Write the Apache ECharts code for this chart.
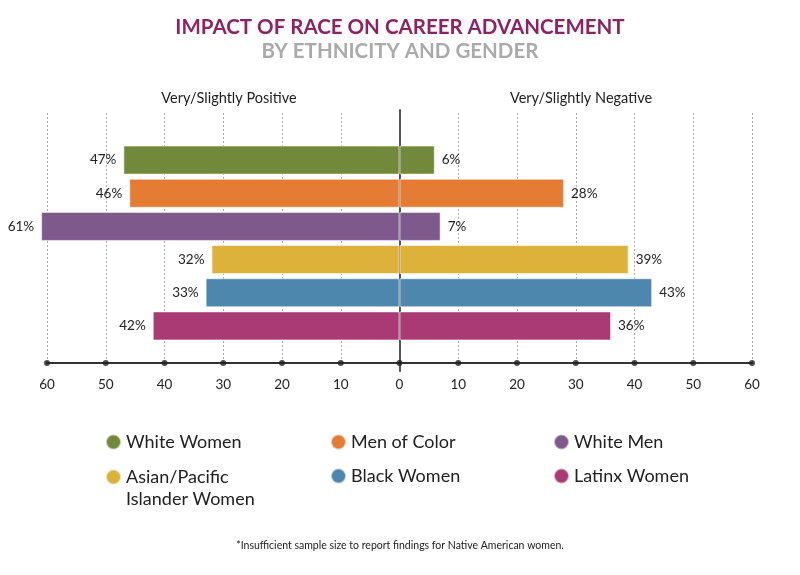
<!DOCTYPE html>
<html><head><meta charset="utf-8">
<script src="https://cdn.jsdelivr.net/npm/echarts@6/dist/echarts.min.js"></script>
<style>html,body{margin:0;padding:0;background:#fff}#c{width:800px;height:575px}</style>
</head><body><div id="c"></div>
<script>
const groups = ['White Women', 'Men of Color', 'White Men', 'Asian/Pacific\nIslander Women', 'Black Women', 'Latinx Women'];
const positiveVals = [47, 46, 61, 32, 33, 42];
const negativeVals = [6, 28, 7, 39, 43, 36];
const colors = ['#72883A', '#E57C33', '#7E5A8C', '#DDB23A', '#4D87AE', '#AA3A74'];
const ticks = [-60, -50, -40, -30, -20, -10, 0, 10, 20, 30, 40, 50, 60];

const FONT = 'Lato';
const chart = echarts.init(document.getElementById('c'));

const series = [];
groups.forEach((g, i) => {
  const common = {
    name: g, type: 'bar', xAxisIndex: 0, yAxisIndex: 0, clip: false,
    barWidth: 29, barGap: '-100%',
    itemStyle: { color: colors[i], borderColor: 'rgba(255,255,255,0.55)', borderWidth: 1 },
    label: { show: true, formatter: p => Math.abs(p.value) + '%', fontFamily: FONT, fontSize: 13.5, color: '#222', distance: 7 },
    emphasis: { disabled: true }
  };
  series.push(Object.assign({}, common, {
    data: groups.map((_, j) => j === i ? -positiveVals[i] : null),
    label: Object.assign({}, common.label, { position: 'left' })
  }));
  series.push(Object.assign({}, common, {
    data: groups.map((_, j) => j === i ? negativeVals[i] : null),
    label: Object.assign({}, common.label, { position: 'right' })
  }));
});
series.push({
  type: 'scatter', xAxisIndex: 1, yAxisIndex: 1, silent: true, clip: false, z: 5,
  symbolSize: 6, itemStyle: { color: '#222' },
  data: ticks.map(t => [t, 0])
});

const tallCircle = 'path://M0,11 A7.5,7.5 0 1,0 15,11 A7.5,7.5 0 1,0 0,11 Z M7.5,0 L7.5,0 M7.5,44 L7.5,44';

function legendFor(i, left, top, icon, h) {
  return {
    data: [{ name: groups[i], icon: icon || 'circle' }],
    left: left, top: top, itemWidth: 15, itemHeight: h || 15, itemGap: 0,
    selectedMode: false,
    textStyle: { fontFamily: FONT, fontSize: 18, color: '#222', lineHeight: 22 }
  };
}

chart.setOption({
  animation: false,
  title: [
    { text: 'IMPACT OF RACE ON CAREER ADVANCEMENT', left: 'center', top: 12,
      textStyle: { fontFamily: FONT, fontWeight: 'bold', fontSize: 20.5, color: '#8E2262' } },
    { text: 'BY ETHNICITY AND GENDER', left: 'center', top: 36,
      textStyle: { fontFamily: FONT, fontWeight: 'bold', fontSize: 20.5, color: '#AAAAAA' } },
    { text: 'Very/Slightly Positive', left: 224, top: 86, textAlign: 'center',
      textStyle: { fontFamily: FONT, fontWeight: 'normal', fontSize: 14.5, color: '#222' } },
    { text: 'Very/Slightly Negative', left: 576, top: 86, textAlign: 'center',
      textStyle: { fontFamily: FONT, fontWeight: 'normal', fontSize: 14.5, color: '#222' } },
    { text: '*Insufficient sample size to report findings for Native American women.', left: 'center', top: 535,
      textStyle: { fontFamily: FONT, fontWeight: 'normal', fontSize: 10.5, color: '#222' } }
  ],
  legend: [
    legendFor(0, 100, 426),
    legendFor(1, 325, 426),
    legendFor(2, 548, 426),
    legendFor(3, 100, 460, tallCircle, 44),
    legendFor(4, 325, 460),
    legendFor(5, 548, 460)
  ],
  grid: [
    { left: 47, right: 48, top: 143.5, height: 199 },
    { left: 47, right: 48, top: 113, height: 250 },
    { left: 47, right: 48, top: 110, height: 261 }
  ],
  xAxis: [
    { gridIndex: 0, type: 'value', min: -60, max: 60, interval: 10, show: false },
    { gridIndex: 1, type: 'value', min: -60, max: 60, interval: 10,
      axisLine: { show: true, onZero: false, lineStyle: { color: '#333', width: 2 } },
      axisTick: { show: false },
      axisLabel: { formatter: v => Math.abs(v), fontFamily: FONT, fontSize: 13.5, color: '#222', margin: 15 },
      splitLine: { show: true, lineStyle: { type: [2, 2], color: '#AAAAAA', width: 1 } } },
    { gridIndex: 2, type: 'value', min: -60, max: 60, interval: 10, show: false }
  ],
  yAxis: [
    { gridIndex: 0, type: 'category', data: groups, inverse: true, show: false },
    { gridIndex: 1, type: 'value', min: 0, max: 1, show: false },
    { gridIndex: 2, type: 'value', min: 0, max: 1, show: true,
      axisLine: { show: true, onZero: true, lineStyle: { color: '#555', width: 2 } },
      axisTick: { show: false }, axisLabel: { show: false }, splitLine: { show: false } }
  ],
  series: series
});
</script></body></html>
